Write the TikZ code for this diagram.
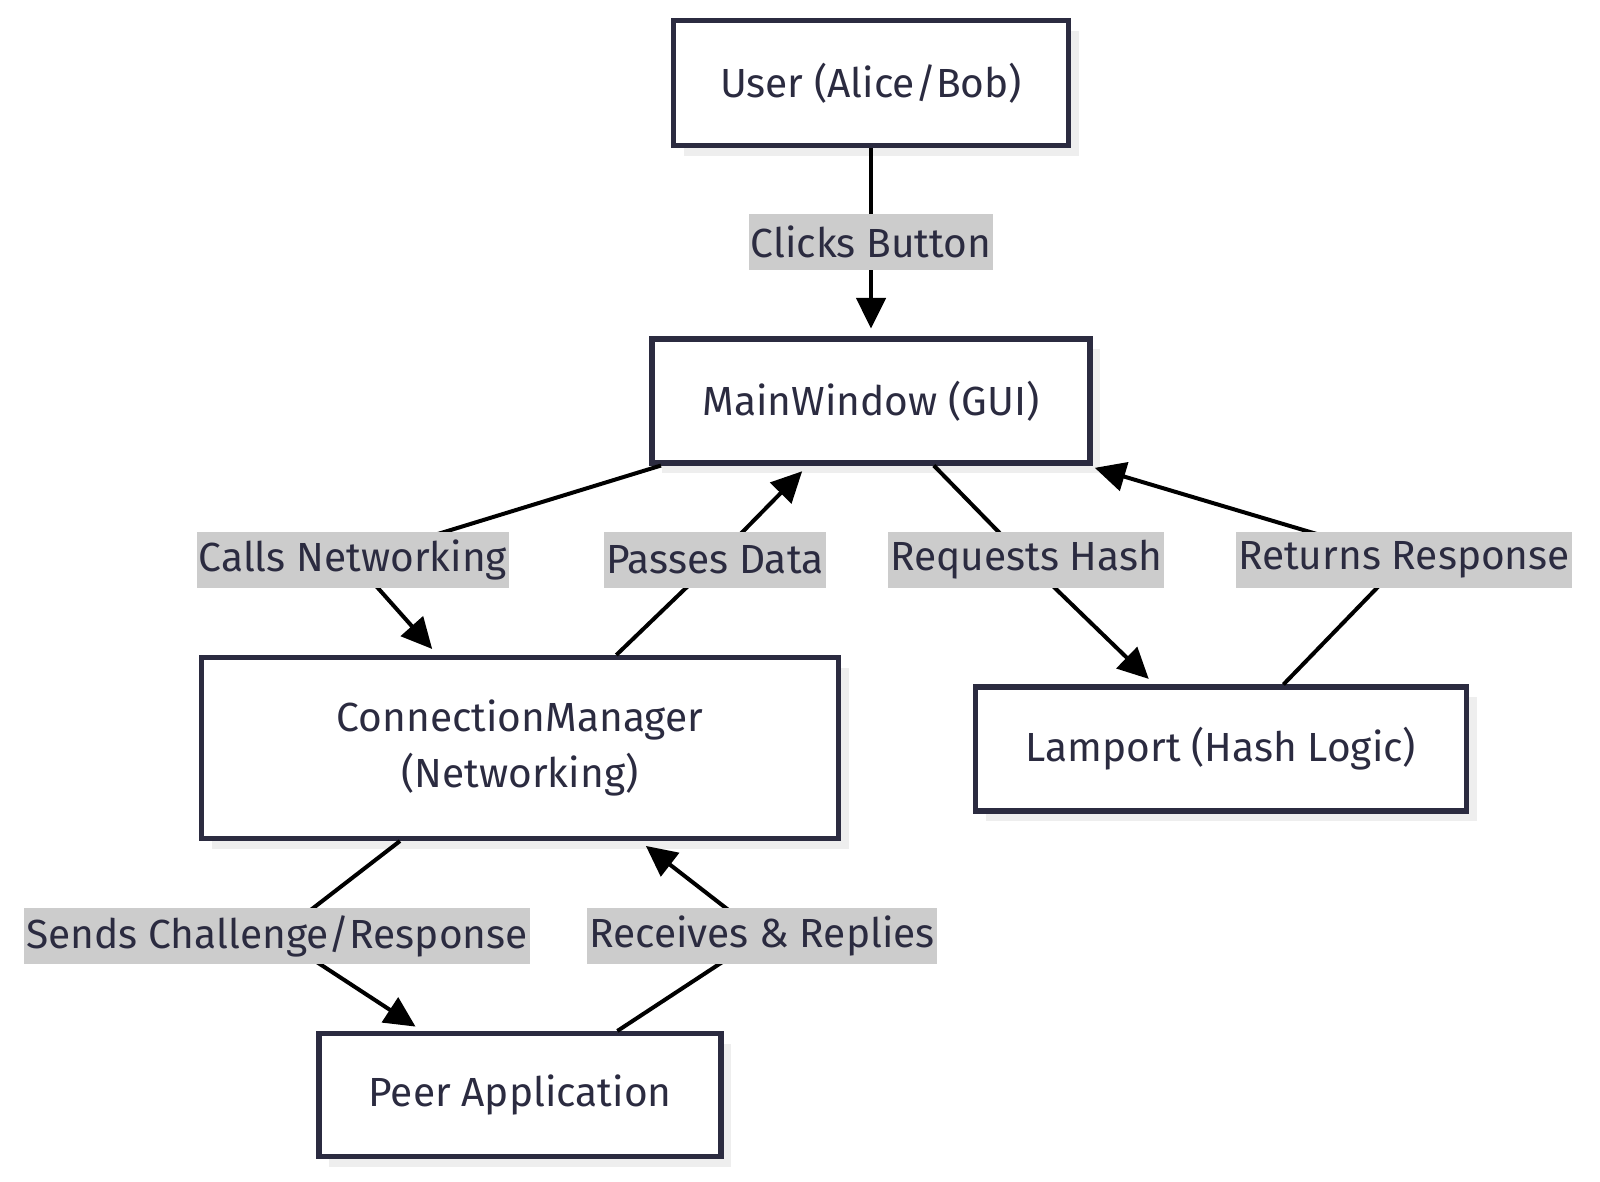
\documentclass[tikz,border=0pt]{standalone}
\usepackage{fontspec}
\setmainfont{Fira Sans}
\usetikzlibrary{arrows.meta,shadows}
\newlength\pxu \setlength\pxu{0.75pt}
\definecolor{ink}{HTML}{2B2B40}
\definecolor{lblbg}{HTML}{CCCCCC}
\definecolor{shade}{HTML}{EEEEEE}
\begin{document}
\begin{tikzpicture}[x=0.75pt,y=-0.75pt,
  txt/.style={text=ink, font=\fontsize{30.5}{42}\selectfont},
  box/.style={txt, draw=ink, line width=3.8pt, fill=white, align=center, inner sep=0pt,
    general shadow={fill=shade, shadow xshift=7.5pt, shadow yshift=-7.5pt}},
  lbl/.style={txt, fill=lblbg, inner xsep=1.5pt, inner ysep=0pt, minimum height=42pt},
  conn/.style={draw=black, line width=3pt, line join=miter,
    -{Triangle[length=23pt,width=22pt]}, shorten >=6pt}
]
\useasboundingbox[fill=white] (0,0) rectangle (1600,1182);

% nodes
\node[box, minimum width=395\pxu, minimum height=125\pxu] (user) at (871,83) {User (Alice/Bob)};
\node[box, minimum width=438\pxu, minimum height=124\pxu] (mw) at (871,401) {MainWindow (GUI)};
\node[box, minimum width=637\pxu, minimum height=181\pxu] (cm) at (520,748) {ConnectionManager\\(Networking)};
\node[box, minimum width=491\pxu, minimum height=124\pxu] (lp) at (1221,749) {Lamport (Hash Logic)};
\node[box, minimum width=402\pxu, minimum height=123\pxu] (peer) at (520,1095) {Peer Application};

% label positions
\coordinate (pCB) at (871,242);
\coordinate (pCN) at (353,560);
\coordinate (pPD) at (715,560);
\coordinate (pRH) at (1026,560);
\coordinate (pRR) at (1404,560);
\coordinate (pSC) at (277,936);
\coordinate (pRC) at (762,936);

% connectors
\draw[conn] (user) -- (pCB) -- (mw);
\draw[conn] (mw) -- (pCN) -- (cm);
\draw[conn] (cm) -- (pPD) -- (mw);
\draw[conn] (mw) -- (pRH) -- (lp);
\draw[conn] (lp) -- (pRR) -- (mw);
\draw[conn] (cm) -- (pSC) -- (peer);
\draw[conn] (peer) -- (pRC) -- (cm);

% labels
\node[lbl] (lCB) at (pCB) {Clicks Button};
\node[lbl] (lCN) at (pCN) {Calls Networking};
\node[lbl] (lPD) at (pPD) {Passes Data};
\node[lbl] (lRH) at (pRH) {Requests Hash};
\node[lbl] (lRR) at (pRR) {Returns Response};
\node[lbl] (lSC) at (pSC) {Sends Challenge/Response};
\node[lbl] (lRC) at (pRC) {Receives \& Replies};
\end{tikzpicture}
\end{document}
